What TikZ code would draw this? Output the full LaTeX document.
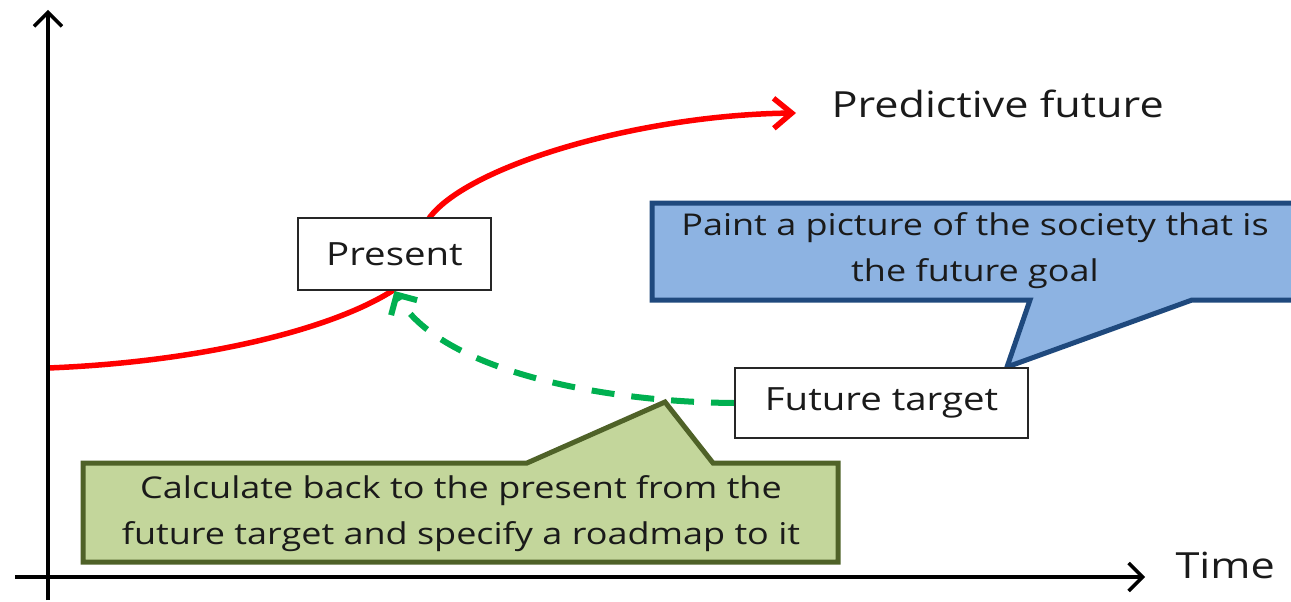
\documentclass[tikz,border=0pt]{standalone}
\usepackage{fontspec}
\setmainfont{Open Sans}[FakeStretch=1.2]
\usetikzlibrary{arrows.meta}
\definecolor{curvered}{HTML}{FF0000}
\definecolor{pathgreen}{HTML}{00B050}
\definecolor{goalfill}{HTML}{8DB3E2}
\definecolor{goaledge}{HTML}{1F497D}
\definecolor{roadfill}{HTML}{C3D69B}
\definecolor{roadedge}{HTML}{4F6228}
\definecolor{ink}{HTML}{1A1A1A}
\pgfdeclarelayer{bg}
\pgfsetlayers{bg,main}
\tikzset{
  bigfont/.style={font=\fontsize{36}{46}\selectfont, text=ink},
  boxfont/.style={font=\fontsize{32}{46}\selectfont, text=ink},
  notefont/.style={font=\fontsize{30}{46}\selectfont, text=ink},
  axisline/.style={line width=3.5pt, black, -{Straight Barb[length=14pt,width=28pt]}},
  stagebox/.style={draw=black!85, line width=2pt, fill=white, boxfont, inner sep=0pt},
  trendline/.style={line width=5.5pt, curvered, -{Straight Barb[length=18pt,width=30pt]}},
  backcast/.style={line width=6pt, pathgreen, dash pattern=on 23pt off 17pt,
                   -{Straight Barb[length=15pt,width=30pt]}},
  calloutshape/.style={line width=5pt, line join=miter},
}
\begin{document}
\begin{tikzpicture}[x=1pt,y=-1pt]
\useasboundingbox (0,0) rectangle (1291,602);

% axes
\coordinate (ybot) at (48,600);
\coordinate (ytop) at (48,10);
\coordinate (xleft) at (15,577);
\coordinate (xright) at (1145,577);
\draw[axisline] (ybot) -- (ytop);
\draw[axisline] (xleft) -- (xright);
\node[bigfont, anchor=west] (timelbl) at (1172,565) {Time};

% stages on the time line
\node[stagebox, minimum width=193pt, minimum height=72pt] (present) at (394.5,254) {Present};
\node[stagebox, minimum width=293pt, minimum height=70pt] (target) at (881.5,403) {Future target};
\node[bigfont, anchor=west] (predict) at (828,104) {Predictive future};

% trend curve running through the present
\coordinate (trendstart) at (48,368);
\coordinate (trendend) at (796,113);
\begin{pgfonlayer}{bg}
\draw[trendline] (trendstart) .. controls (200,362) and (330,330) .. (392,291)
  .. controls (415,276) and (420,232) .. (430,217)
  .. controls (470,165) and (640,115) .. (trendend);
\end{pgfonlayer}

% backcasting path from the target to the present
\draw[backcast] (target.west) .. controls (600,402) and (440,370) .. (present.south);

% callout: roadmap back to the present
\draw[calloutshape, draw=roadedge, fill=roadfill]
  (83,463) -- (527,463) -- (665,402) -- (713,463) -- (838,463)
  -- (838,562) -- (83,562) -- cycle;
\node[notefont, align=center] (roadtext) at (461,514)
  {Calculate back to the present from the\\future target and specify a roadmap to it};

% callout: picture of the goal society
\begin{scope}
\clip (0,0) rectangle (1291,602);
\draw[calloutshape, draw=goaledge, fill=goalfill]
  (652,203) -- (1305,203) -- (1305,300) -- (1192,300) -- (target.north -| 1007,0)
  -- (1030,300) -- (652,300) -- cycle;
\end{scope}
\node[notefont, align=center] (goaltext) at (975,251)
  {Paint a picture of the society that is\\the future goal};

% keep the target box above the callout tip
\node[stagebox, minimum width=293pt, minimum height=70pt] at (target) {Future target};
\end{tikzpicture}
\end{document}
